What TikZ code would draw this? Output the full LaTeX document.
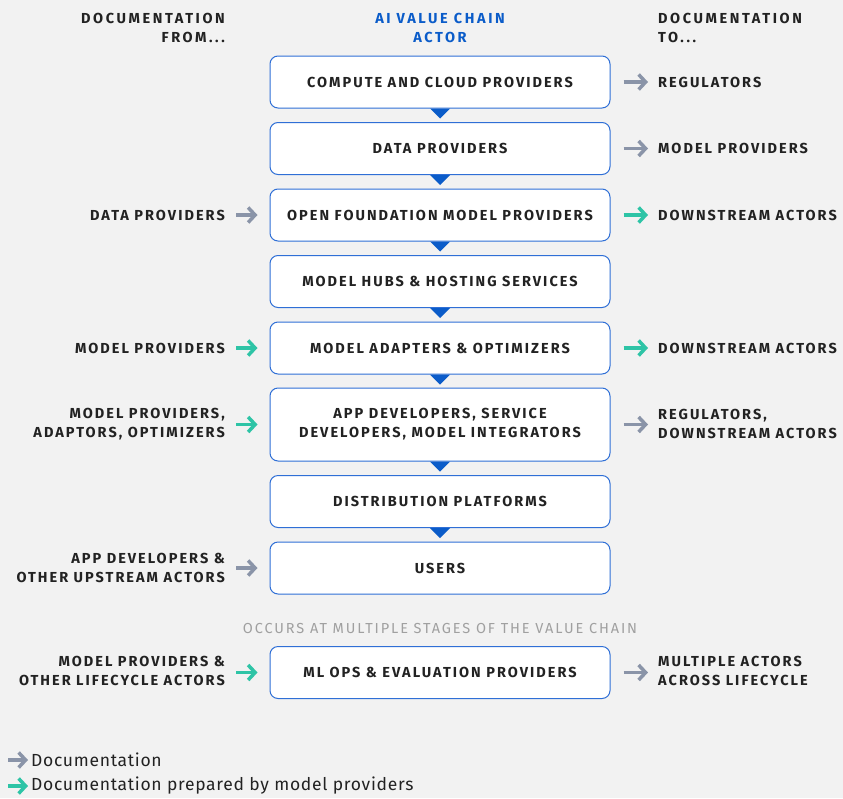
\documentclass[tikz,border=0pt]{standalone}
\usepackage{fontspec}
\setmainfont{Fira Sans}
\newfontfamily\lblfont[LetterSpace=14]{Fira Sans}
\newfontfamily\hdrfont[LetterSpace=18]{Fira Sans}
\newfontfamily\occfont[LetterSpace=13]{Fira Sans}
\newfontfamily\legfont[LetterSpace=4]{Fira Sans}
\usetikzlibrary{arrows.meta}
\definecolor{bg}{HTML}{F2F2F2}
\definecolor{blu}{HTML}{0B5CC9}
\definecolor{bord}{HTML}{2F6FD6}
\definecolor{gra}{HTML}{8A94A8}
\definecolor{tea}{HTML}{2EC4A6}
\definecolor{txt}{HTML}{222222}
\definecolor{occ}{HTML}{A0A0A0}
\tikzset{
  lbl/.style={font=\lblfont\fontsize{14.5}{19}\selectfont\bfseries},
  hdr/.style={font=\hdrfont\fontsize{14.5}{19}\selectfont\bfseries, inner sep=0pt},
  actor/.style={draw=bord, line width=1pt, fill=white, rounded corners=8pt, minimum width=340pt, inner sep=0pt, text=txt, lbl, align=center},
  rlab/.style={anchor=west, text=txt, lbl, align=left, inner sep=0pt},
  llab/.style={anchor=east, text=txt, lbl, align=right, inner sep=0pt},
  docarr/.style={line width=3.5pt, -{Straight Barb[length=7pt,width=15pt,line width=3.5pt]}},
  garr/.style={docarr, draw=gra},
  tarr/.style={docarr, draw=tea},
  tri/.style={fill=blu, draw=none},
}
\begin{document}
\begin{tikzpicture}[x=1pt,y=-1pt]
\fill[bg] (0,0) rectangle (843,798);
\useasboundingbox (0,0) rectangle (843,798);
% headers
\node[hdr, anchor=east, align=right, text=txt] (hl) at (225,28) {DOCUMENTATION\\FROM...};
\node[hdr, text=blu, align=center] (hc) at (440,28) {AI VALUE CHAIN\\ACTOR};
\node[hdr, anchor=west, align=left, text=txt] (hr) at (658,28) {DOCUMENTATION\\TO...};
% boxes
\node[actor, minimum height=52pt] (b1) at (440,82) {COMPUTE AND CLOUD PROVIDERS};
\node[actor, minimum height=52pt] (b2) at (440,148.5) {DATA PROVIDERS};
\node[actor, minimum height=52pt] (b3) at (440,215) {OPEN FOUNDATION MODEL PROVIDERS};
\node[actor, minimum height=52pt] (b4) at (440,281.5) {MODEL HUBS \& HOSTING SERVICES};
\node[actor, minimum height=52pt] (b5) at (440,348) {MODEL ADAPTERS \& OPTIMIZERS};
\node[actor, minimum height=73pt] (b6) at (440,424.5) {APP DEVELOPERS, SERVICE\\DEVELOPERS, MODEL INTEGRATORS};
\node[actor, minimum height=52pt] (b7) at (440,501.5) {DISTRIBUTION PLATFORMS};
\node[actor, minimum height=52pt] (b8) at (440,568) {USERS};
\node[actor, minimum height=52pt] (b9) at (440,672.5) {ML OPS \& EVALUATION PROVIDERS};
% triangles
\foreach \b in {b1,b2,b3,b4,b5,b6,b7}{
  \fill[tri] ([xshift=-10pt]\b.south) -- ([xshift=10pt]\b.south) -- ([yshift=-10pt]\b.south) -- cycle;
}
% occurs label
\node[text=occ, font=\occfont\fontsize{14.5}{16}\selectfont, inner sep=0pt] (occ) at (440,628) {OCCURS AT MULTIPLE STAGES OF THE VALUE CHAIN};
% right side
\node[rlab] (r1) at (658,82) {REGULATORS};
\node[rlab] (r2) at (658,148.5) {MODEL PROVIDERS};
\node[rlab] (r3) at (658,215) {DOWNSTREAM ACTORS};
\node[rlab] (r5) at (658,348) {DOWNSTREAM ACTORS};
\node[rlab] (r6) at (658,424) {REGULATORS,\\DOWNSTREAM ACTORS};
\node[rlab] (r9) at (658,671) {MULTIPLE ACTORS\\ACROSS LIFECYCLE};
\draw[garr] ([xshift=13pt]b1.east) -- ([xshift=-10pt]r1.west |- b1.east);
\draw[garr] ([xshift=13pt]b2.east) -- ([xshift=-10pt]r2.west |- b2.east);
\draw[tarr] ([xshift=13pt]b3.east) -- ([xshift=-10pt]r3.west |- b3.east);
\draw[tarr] ([xshift=13pt]b5.east) -- ([xshift=-10pt]r5.west |- b5.east);
\draw[garr] ([xshift=13pt]b6.east) -- ([xshift=-10pt]r6.west |- b6.east);
\draw[garr] ([xshift=13pt]b9.east) -- ([xshift=-10pt]r9.west |- b9.east);
% left side
\node[llab] (l3) at (225,215) {DATA PROVIDERS};
\node[llab] (l5) at (225,348) {MODEL PROVIDERS};
\node[llab] (l6) at (225,424) {MODEL PROVIDERS,\\ADAPTORS, OPTIMIZERS};
\node[llab] (l8) at (225,568) {APP DEVELOPERS \&\\OTHER UPSTREAM ACTORS};
\node[llab] (l9) at (225,671) {MODEL PROVIDERS \&\\OTHER LIFECYCLE ACTORS};
\draw[garr] ([xshift=11pt]l3.east |- b3.west) -- ([xshift=-12pt]b3.west);
\draw[tarr] ([xshift=11pt]l5.east |- b5.west) -- ([xshift=-12pt]b5.west);
\draw[tarr] ([xshift=11pt]l6.east |- b6.west) -- ([xshift=-12pt]b6.west);
\draw[garr] ([xshift=11pt]l8.east |- b8.west) -- ([xshift=-12pt]b8.west);
\draw[tarr] ([xshift=11pt]l9.east |- b9.west) -- ([xshift=-12pt]b9.west);
% legend
\coordinate (lg1a) at (8,760);
\coordinate (lg1b) at (28,760);
\coordinate (lg2a) at (8,786);
\coordinate (lg2b) at (28,786);
\draw[garr] (lg1a) -- (lg1b);
\draw[tarr] (lg2a) -- (lg2b);
\node[anchor=west, inner sep=0pt, text=txt, font=\legfont\fontsize{17.5}{20}\selectfont] (lt1) at (31,760) {Documentation};
\node[anchor=west, inner sep=0pt, text=txt, font=\legfont\fontsize{17.5}{20}\selectfont] (lt2) at (31,786) {Documentation prepared by model providers};
\end{tikzpicture}
\end{document}
